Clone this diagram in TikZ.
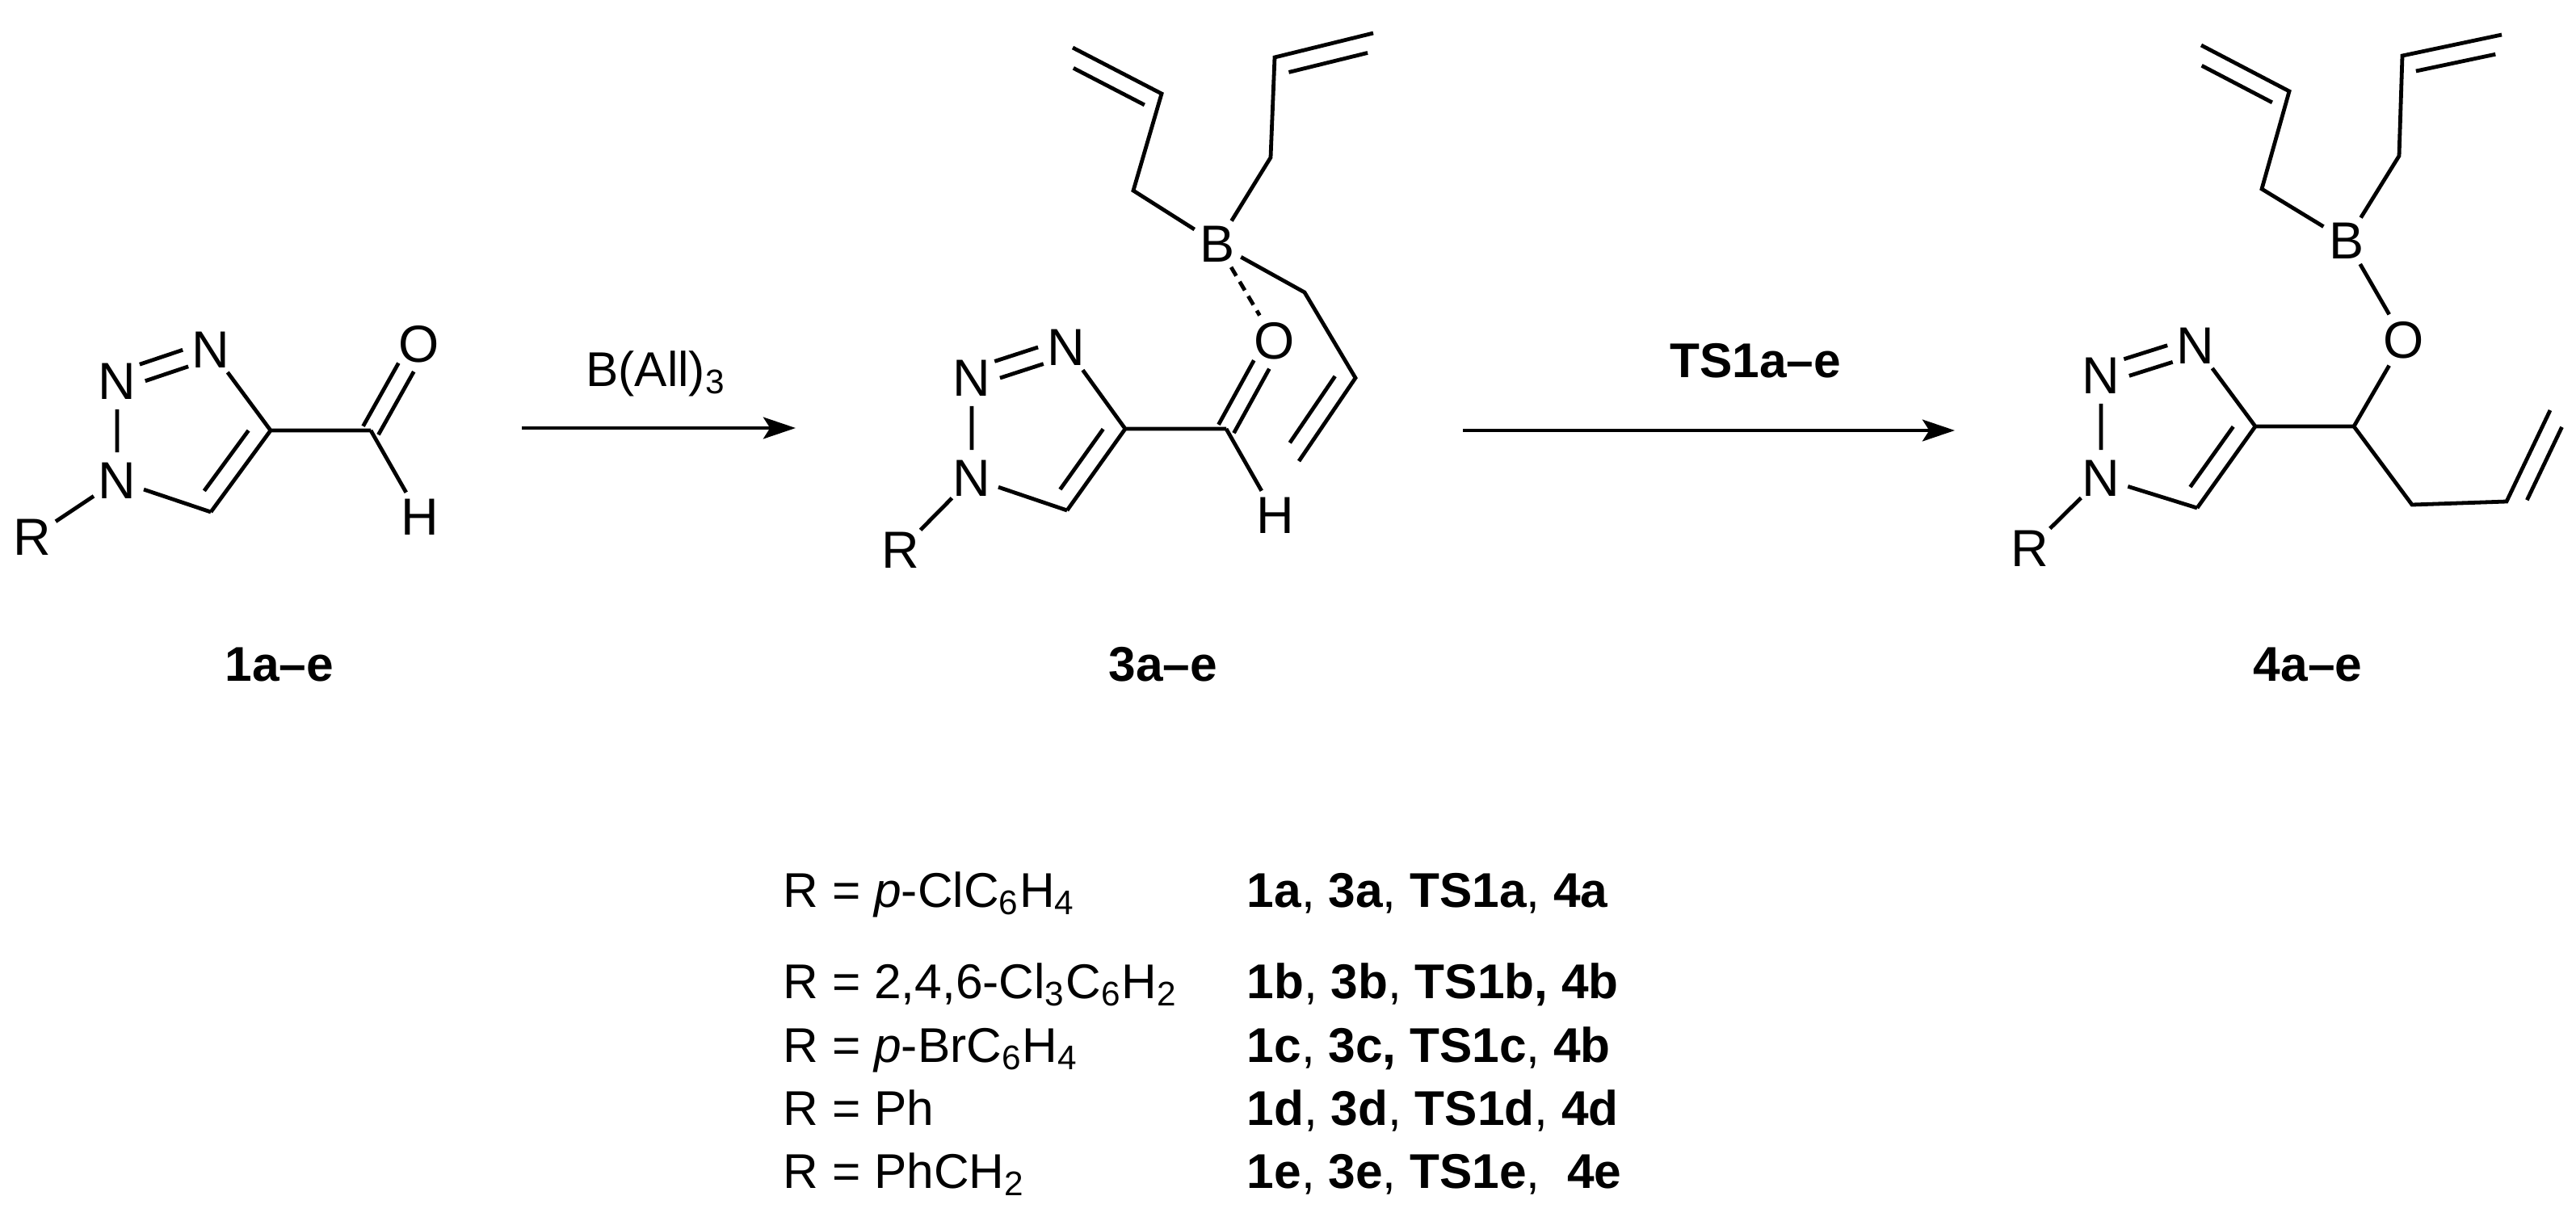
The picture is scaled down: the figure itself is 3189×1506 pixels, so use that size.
\documentclass[tikz,border=0pt]{standalone}
\usepackage{fontspec}
\setmainfont{Liberation Sans}
\usetikzlibrary{calc,arrows.meta}
\tikzset{
  atom/.style={circle,inner sep=0.3pt,font=\fontsize{15.5}{17}\selectfont},
  lbl/.style={font=\fontsize{14.5}{16}\selectfont\bfseries},
  txt/.style={font=\fontsize{14.5}{16}\selectfont,anchor=base west,inner sep=0pt},
  bnd/.style={line width=1.15pt},
  rxn/.style={line width=1.15pt,-{Stealth[length=9.6pt,width=6.4pt,inset=2pt]}}
}
\newcommand\dbsym[4]{%
 \draw[bnd] ($ (#1)!#3!(#2)!2.6pt!90:(#2) $) -- ($ (#2)!#4!(#1)!-2.6pt!90:(#1) $);
 \draw[bnd] ($ (#1)!#3!(#2)!-2.6pt!90:(#2) $) -- ($ (#2)!#4!(#1)!2.6pt!90:(#1) $);}
\newcommand\dbo[4]{% a b trim offset
 \draw[bnd] ($ (#1)!#3!(#2)!#4!90:(#2) $) -- ($ (#2)!#3!(#1)!-#4!90:(#1) $);}
\begin{document}
\begin{tikzpicture}[x=0.24pt,y=-0.24pt]
\useasboundingbox (0,0) rectangle (3189,1506);
% ---------- molecule 1 ----------
\node[atom] (aR) at (40,665) {R};
\node[atom] (aN1) at (145,595) {N};
\node[atom] (aN2) at (145,472) {N};
\node[atom] (aN3) at (261,433) {N};
\coordinate (aC4) at (335,533);
\coordinate (aC5) at (261,634);
\coordinate (aC6) at (459,533);
\node[atom] (aO) at (519,426) {O};
\node[atom] (aH) at (520,640) {H};
\draw[bnd] (aR)--(aN1) (aN1)--(aN2) (aN3)--(aC4) (aC4)--(aC5) (aC5)--(aN1) (aC4)--(aC6) (aC6)--(aH);
\dbsym{aN2}{aN3}{0.27}{0.27}
\dbo{aC4}{aC5}{0.13}{-5.3pt}
\dbsym{aC6}{aO}{0}{0.27}
\node[lbl] (l1) at (346,823) {1a–e};
% arrow 1
\coordinate (r1s) at (646,530);
\coordinate (r1e) at (985,530);
\draw[rxn] (r1s) -- (r1e);
\node[font=\fontsize{14.5}{16}\selectfont] (r1t) at (812,463) {B(All)\textsubscript{3}};
% ---------- molecule 3 ----------
\node[atom] (bR) at (1115,681) {R};
\node[atom] (bN1) at (1203,592) {N};
\node[atom] (bN2) at (1203,468) {N};
\node[atom] (bN3) at (1320,430) {N};
\coordinate (bC4) at (1393,531);
\coordinate (bC5) at (1321,632);
\coordinate (bC6) at (1518,531);
\node[atom] (bO) at (1578,422) {O};
\node[atom] (bH) at (1579,638) {H};
\node[atom] (bB) at (1507,302) {B};
\coordinate (bA1) at (1403,236);
\coordinate (bA2) at (1438,116);
\coordinate (bA3) at (1328,59);
\coordinate (bB1) at (1573,195);
\coordinate (bB2) at (1578,71);
\coordinate (bB3) at (1700,41);
\coordinate (bD1) at (1615,362);
\coordinate (bD2) at (1678,468);
\coordinate (bD3) at (1608,571);
\draw[bnd] (bR)--(bN1) (bN1)--(bN2) (bN3)--(bC4) (bC4)--(bC5) (bC5)--(bN1) (bC4)--(bC6) (bC6)--(bH);
\dbsym{bN2}{bN3}{0.27}{0.27}
\dbo{bC4}{bC5}{0.13}{-5.3pt}
\dbsym{bC6}{bO}{0}{0.27}
\draw[bnd] (bB)--(bA1)--(bA2)--(bA3);
\dbo{bA2}{bA3}{0.1}{5.3pt}
\draw[bnd] (bB)--(bB1)--(bB2)--(bB3);
\dbo{bB2}{bB3}{0.1}{-5.3pt}
\draw[bnd] (bB)--(bD1)--(bD2)--(bD3);
\dbo{bD2}{bD3}{0.1}{-5.3pt}
\draw[bnd,dash pattern=on 3pt off 2pt] (bB)--(bO);
\node[lbl] (l3) at (1440,823) {3a–e};
% arrow 2
\coordinate (r2s) at (1811,533);
\coordinate (r2e) at (2420,533);
\draw[rxn] (r2s) -- (r2e);
\node[lbl] (r2t) at (2173,447) {TS1a–e};
% ---------- molecule 4 ----------
\node[atom] (cR) at (2513,679) {R};
\node[atom] (cN1) at (2601,592) {N};
\node[atom] (cN2) at (2601,465) {N};
\node[atom] (cN3) at (2718,428) {N};
\coordinate (cC4) at (2792,528);
\coordinate (cC5) at (2720,629);
\coordinate (cC6) at (2914,528);
\node[atom] (cO) at (2976,421) {O};
\node[atom] (cB) at (2905,298) {B};
\coordinate (cA1) at (2800,234);
\coordinate (cA2) at (2834,113);
\coordinate (cA3) at (2725,56);
\coordinate (cB1) at (2970,193);
\coordinate (cB2) at (2974,69);
\coordinate (cB3) at (3097,43);
\coordinate (cD1) at (2986,625);
\coordinate (cD2) at (3103,621);
\coordinate (cD3) at (3157,508);
\draw[bnd] (cR)--(cN1) (cN1)--(cN2) (cN3)--(cC4) (cC4)--(cC5) (cC5)--(cN1) (cC4)--(cC6) (cC6)--(cO) (cO)--(cB);
\dbsym{cN2}{cN3}{0.27}{0.27}
\dbo{cC4}{cC5}{0.13}{-5.3pt}
\draw[bnd] (cB)--(cA1)--(cA2)--(cA3);
\dbo{cA2}{cA3}{0.1}{5.3pt}
\draw[bnd] (cB)--(cB1)--(cB2)--(cB3);
\dbo{cB2}{cB3}{0.1}{-5.3pt}
\draw[bnd] (cC6)--(cD1)--(cD2)--(cD3);
\dbo{cD2}{cD3}{0.1}{-5.3pt}
\node[lbl] (l4) at (2857,823) {4a–e};
% ---------- table ----------
\node[txt] (t1a) at (969,1123) {R = \textit{p}-ClC\textsubscript{6}H\textsubscript{4}};
\node[txt] (t2a) at (969,1236) {R = 2,4,6-Cl\textsubscript{3}C\textsubscript{6}H\textsubscript{2}};
\node[txt] (t3a) at (969,1315) {R = \textit{p}-BrC\textsubscript{6}H\textsubscript{4}};
\node[txt] (t4a) at (969,1393) {R = Ph};
\node[txt] (t5a) at (969,1471) {R = PhCH\textsubscript{2}};
\node[txt] (t1b) at (1543,1123) {\textbf{1a}, \textbf{3a}, \textbf{TS1a}, \textbf{4a}};
\node[txt] (t2b) at (1543,1236) {\textbf{1b}, \textbf{3b}, \textbf{TS1b, 4b}};
\node[txt] (t3b) at (1543,1315) {\textbf{1c}, \textbf{3c, TS1c}, \textbf{4b}};
\node[txt] (t4b) at (1543,1393) {\textbf{1d}, \textbf{3d}, \textbf{TS1d}, \textbf{4d}};
\node[txt] (t5b) at (1543,1471) {\textbf{1e}, \textbf{3e}, \textbf{TS1e}, \ \textbf{4e}};
\end{tikzpicture}
\end{document}
